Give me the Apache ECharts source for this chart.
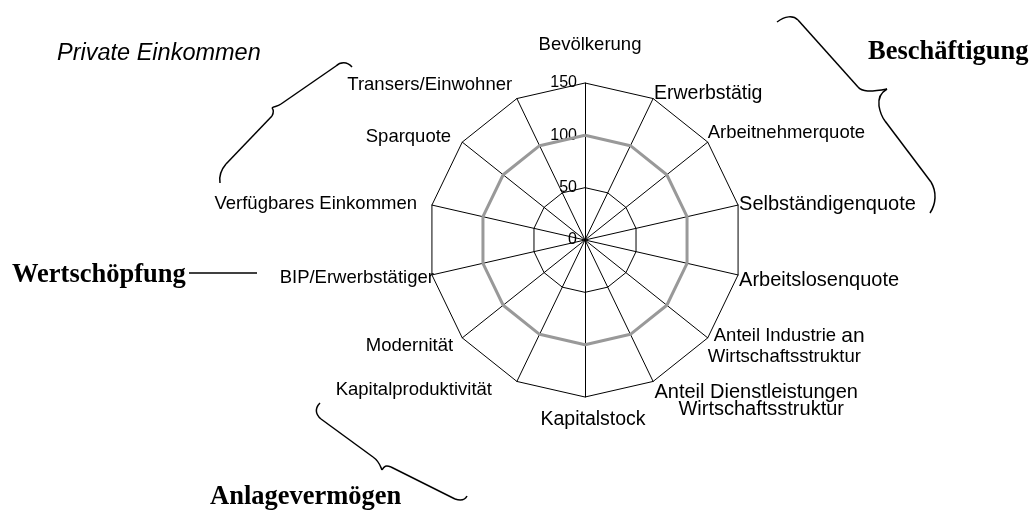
<!DOCTYPE html>
<html>
<head>
<meta charset="utf-8">
<script src="https://cdn.jsdelivr.net/npm/echarts@6/dist/echarts.min.js"></script>
<style>
html,body{margin:0;padding:0;background:#fff;}
#main{width:1029px;height:511px;}
</style>
</head>
<body>
<div id="main"></div>
<script>
// Indicators listed counterclockwise from the top (ECharts radar order)
const categories = [
  'Bevölkerung',
  'Transers/Einwohner',
  'Sparquote',
  'Verfügbares Einkommen',
  'BIP/Erwerbstätiger',
  'Modernität',
  'Kapitalproduktivität',
  'Kapitalstock',
  'Anteil Dienstleistungen\nWirtschaftsstruktur',
  'Anteil Industrie an\nWirtschaftsstruktur',
  'Arbeitslosenquote',
  'Selbständigenquote',
  'Arbeitnehmerquote',
  'Erwerbstätig'
];
const values = [100,100,100,100,100,100,100,100,100,100,100,100,100,100];
const axisMax = 150;
const tickLabels = ['0','50','100','150'];

// label styling per indicator (same order as categories)
const nameSizes = [18.5,18.5,18.5,18.5,18.5,18.5,18.5,19.5,20,18.5,20,20,18.5,19.5];
const nameGaps  = [29,4,4,4,-2,4,2,13,3,0,1,1,0,2];
const namePads  = [
  [0,0,0,10],   // Bevölkerung
  [0,3,20,0],   // Transers
  [0,8,5,0],    // Sparquote
  [0,11,1,0],   // Verfügbares Einkommen
  [7,0,0,0],    // BIP
  [12,6,0,0],   // Modernität
  [13,24,0,0],  // Kapitalproduktivität
  [0,0,0,16],   // Kapitalstock
  [0,0,0,0],    // Dienstleistungen
  [17,0,0,0],   // Industrie
  [11,0,0,0],   // Arbeitslosenquote
  [0,0,0,0],    // Selbständigenquote
  [0,0,18,0],   // Arbeitnehmerquote
  [0,0,7,0]     // Erwerbstätig
];
const nameVAlign = [null,null,null,null,null,null,null,null,'top',null,null,null,null,null];

const indicator = categories.map((c, i) => {
  const ts = { fontSize: nameSizes[i], padding: namePads[i] };
  if (nameVAlign[i]) ts.verticalAlign = nameVAlign[i];
  const o = { name: c, max: axisMax, min: 0, nameGap: nameGaps[i], nameTextStyle: ts };
  if (i === 0) o.axisLabel = { show: true };
  return o;
});

const serif = '"Liberation Serif", "Times New Roman", serif';
const sans = '"Liberation Sans", Arial, sans-serif';

function nameFormatter(name) {
  if (name === 'Anteil Industrie an\nWirtschaftsstruktur') {
    return '{i1|Anteil Industrie }{i2|an}\n{i3|Wirtschaftsstruktur}';
  }
  if (name === 'Anteil Dienstleistungen\nWirtschaftsstruktur') {
    return '{d1|Anteil Dienstleistungen}\n{d2|Wirtschaftsstruktur}';
  }
  return name;
}

// brace annotations as simple path strings (M / L / C only)
const braces = [
  'M352,67 C347,61 340,62 336,66 L281,104 C277,107 274,106 272,108 C274,110 274,112 272,116 L226,164 C220,171 219,177 220,183',
  'M777,22 C785,16 793,15 798,20 L858,87 C862,92 870,92 887,89 C880,93 878,98 879,106 C880,112 882,117 885,121 L931,182 C937,192 936,204 930,213',
  'M320,403 C315,408 315,414 321,419 L373,457 C379,461 380,465 382,470 C384,466 386,465 391,467 L455,499 C461,501 465,500 467,496'
];

function pathToGraphics(d) {
  const tokens = d.match(/[MLC]|-?\d+(\.\d+)?/g);
  const out = [];
  let i = 0, cx = 0, cy = 0, cmd = null;
  const st = { stroke: '#000', lineWidth: 1.5, fill: null };
  while (i < tokens.length) {
    const t = tokens[i];
    if (t === 'M' || t === 'L' || t === 'C') { cmd = t; i++; continue; }
    if (cmd === 'M') { cx = +tokens[i]; cy = +tokens[i+1]; i += 2; }
    else if (cmd === 'L') {
      const x = +tokens[i], y = +tokens[i+1]; i += 2;
      out.push({ type: 'line', shape: { x1: cx, y1: cy, x2: x, y2: y }, style: st });
      cx = x; cy = y;
    } else if (cmd === 'C') {
      const a = tokens.slice(i, i + 6).map(Number); i += 6;
      out.push({ type: 'bezierCurve', shape: { x1: cx, y1: cy, cpx1: a[0], cpy1: a[1], cpx2: a[2], cpy2: a[3], x2: a[4], y2: a[5] }, style: st });
      cx = a[4]; cy = a[5];
    } else { i++; }
  }
  return out;
}

const graphics = [
  { type: 'text', x: 57, y: 53, style: { text: 'Private Einkommen', font: 'italic 23.5px ' + sans, fill: '#000', verticalAlign: 'middle' } },
  { type: 'text', x: 868, y: 52, style: { text: 'Beschäftigung', font: 'bold 26.5px ' + serif, fill: '#000', verticalAlign: 'middle' } },
  { type: 'text', x: 12, y: 275, style: { text: 'Wertschöpfung', font: 'bold 26.5px ' + serif, fill: '#000', verticalAlign: 'middle' } },
  { type: 'text', x: 210, y: 497, style: { text: 'Anlagevermögen', font: 'bold 26.5px ' + serif, fill: '#000', verticalAlign: 'middle' } },
  { type: 'line', shape: { x1: 189, y1: 273, x2: 257, y2: 273 }, style: { stroke: '#000', lineWidth: 1.5 } }
];
braces.forEach(b => pathToGraphics(b).forEach(g => graphics.push(g)));

const chart = echarts.init(document.getElementById('main'), null, {renderer: 'canvas'});

chart.setOption({
  backgroundColor: '#ffffff',
  animation: false,
  radar: {
    center: [585, 240],
    radius: 157,
    shape: 'polygon',
    splitNumber: 3,
    startAngle: 90,
    indicator: indicator,
    axisName: {
      color: '#000', fontFamily: sans, fontSize: 18.5,
      formatter: nameFormatter,
      rich: {
        i1: { fontSize: 18.5, fontFamily: sans, color: '#000', lineHeight: 21, padding: [0,0,0,6] },
        i2: { fontSize: 21, fontFamily: sans, color: '#000', lineHeight: 21 },
        i3: { fontSize: 18.5, fontFamily: sans, color: '#000', lineHeight: 21 },
        d1: { fontSize: 20, fontFamily: sans, color: '#000', lineHeight: 17 },
        d2: { fontSize: 20, fontFamily: sans, color: '#000', lineHeight: 17, padding: [0,0,0,24] }
      }
    },
    nameGap: 4,
    axisLine: { show: true, lineStyle: { color: '#000', width: 1 } },
    splitLine: { show: true, lineStyle: { color: '#000', width: 1 } },
    splitArea: { show: false },
    axisTick: { show: false },
    axisLabel: {
      show: false,
      color: '#000',
      fontFamily: sans,
      fontSize: 16,
      formatter: (v) => tickLabels[Math.round(v / 50)] || String(v)
    }
  },
  series: [{
    type: 'radar',
    symbol: 'none',
    lineStyle: { color: '#999999', width: 3 },
    data: [{ value: values }]
  }],
  graphic: graphics
});
</script>
</body>
</html>
